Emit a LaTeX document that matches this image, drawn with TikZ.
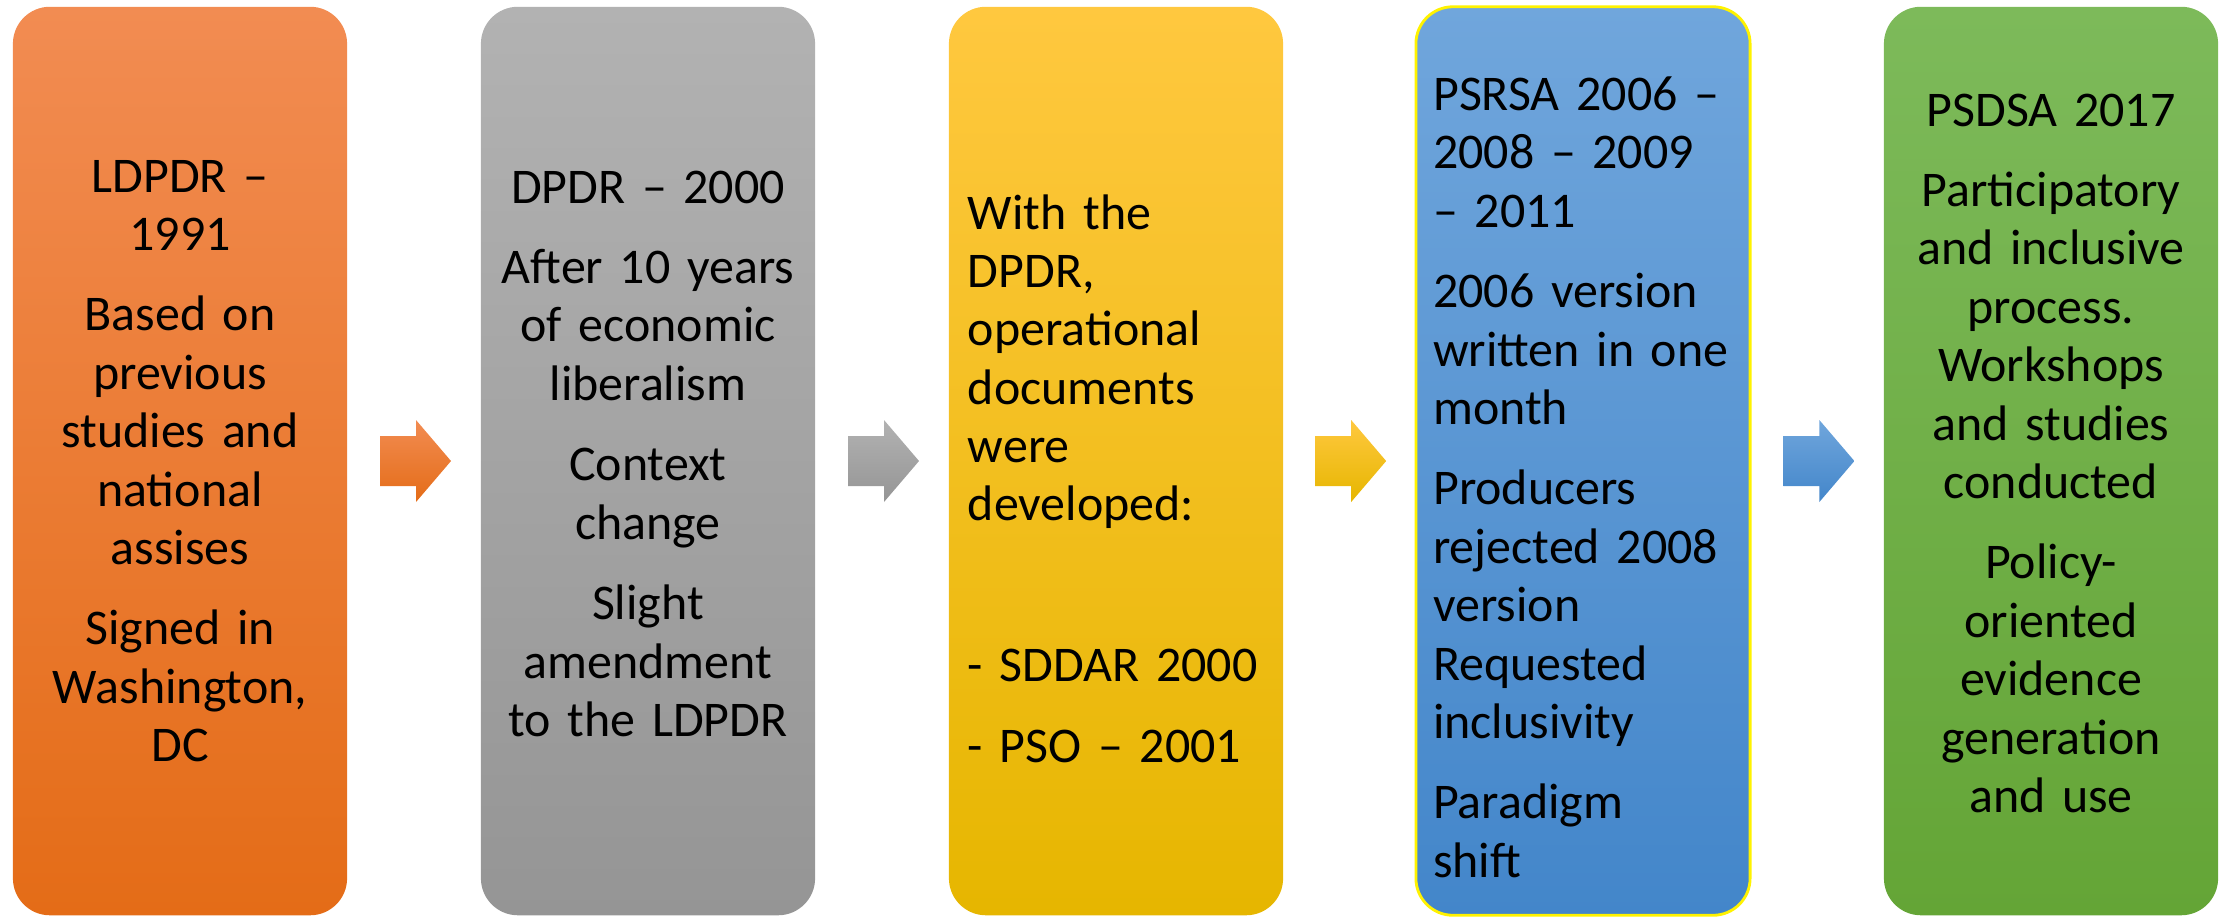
\documentclass[tikz,border=0pt]{standalone}
\usepackage{fontspec}
\setmainfont{Carlito}
\usetikzlibrary{calc}

\definecolor{orangetop}{HTML}{F28C52}
\definecolor{orangebot}{HTML}{E46C17}
\definecolor{graytop}{HTML}{B2B2B2}
\definecolor{graybot}{HTML}{959595}
\definecolor{yellowtop}{HTML}{FFC83F}
\definecolor{yellowbot}{HTML}{E6B600}
\definecolor{bluetop}{HTML}{70A6DC}
\definecolor{bluebot}{HTML}{4386CA}
\definecolor{greentop}{HTML}{7DBA5A}
\definecolor{greenbot}{HTML}{64A536}

\newcommand{\pgap}{\\[6.3pt]}

\tikzset{
  stage/.style={rectangle, rounded corners=0.37cm, minimum width=3.34cm,
    minimum height=9.08cm, inner sep=0pt},
  stagetext/.style={inner sep=0pt, text width=4cm,
    font=\fontsize{14.2pt}{16.6pt}\selectfont},
}

\begin{document}
\begin{tikzpicture}[x=0.01cm,y=-0.01cm]
\useasboundingbox (0,0) rectangle (2221,917);

% the five stages
\node[stage, top color=orangetop, bottom color=orangebot] (b1) at (180,461) {};
\node[stage, top color=graytop, bottom color=graybot] (b2) at (648,461) {};
\node[stage, top color=yellowtop, bottom color=yellowbot] (b3) at (1116,461) {};
\node[stage, top color=bluetop, bottom color=bluebot, draw=yellow, line width=0.8pt] (b4) at (1583,461) {};
\node[stage, top color=greentop, bottom color=greenbot] (b5) at (2051,461) {};

% texts
\node[stagetext, align=center, anchor=base] (t1) at ([shift={(0,186)}]b1.north)
  {LDPDR –\\1991\pgap Based on\\previous\\studies and\\national\\assises\pgap
   Signed in\\Washington,\\DC};
\node[stagetext, align=center, anchor=base] (t2) at ([shift={(0,197)}]b2.north)
  {DPDR – 2000\pgap After 10 years\\of economic\\liberalism\pgap Context\\change\pgap
   Slight\\amendment\\to the LDPDR};
\node[stagetext, align=left, anchor=base west] (t3) at ([shift={(19,223)}]b3.north west)
  {With the\\DPDR,\\operational\\documents\\were\\developed:\\[29.2pt]
   - SDDAR 2000\pgap - PSO – 2001};
\node[stagetext, align=left, anchor=base west] (t4) at ([shift={(18,105)}]b4.north west)
  {PSRSA 2006 –\\2008 – 2009\\– 2011\pgap 2006 version\\written in one\\month\pgap
   Producers\\rejected 2008\\version\\Requested\\inclusivity\pgap Paradigm\\shift};
\node[stagetext, align=center, anchor=base] (t5) at ([shift={(0,120)}]b5.north)
  {PSDSA 2017\pgap Participatory\\and inclusive\\process.\\Workshops\\and studies\\conducted\pgap
   Policy-\\oriented\\evidence\\generation\\and use};

% block arrows between the stages
\foreach \a/\b/\col in {b1/b2/orange, b2/b3/gray, b3/b4/yellow, b4/b5/blue} {
  \coordinate (m) at ($(\a.east)!0.5!(\b.west)$);
  \shade[top color=\col top, bottom color=\col bot]
    ([shift={(-34,-25)}]m) -- ([shift={(2,-25)}]m) -- ([shift={(2,-41)}]m)
    -- ([shift={(37,0)}]m) -- ([shift={(2,41)}]m) -- ([shift={(2,25)}]m)
    -- ([shift={(-34,25)}]m) -- cycle;
}
\end{tikzpicture}
\end{document}
